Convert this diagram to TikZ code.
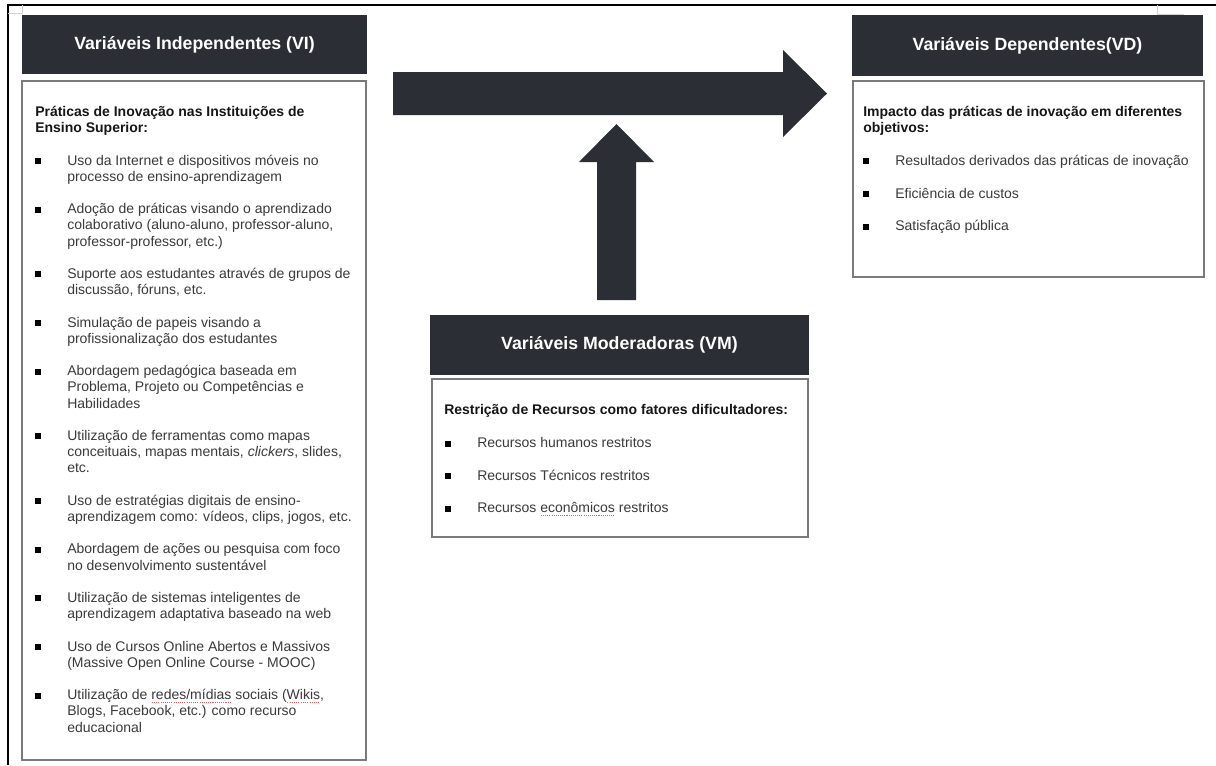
\documentclass[tikz,border=0pt]{standalone}
\usepackage{fontspec}
\setmainfont{Liberation Sans}
\usetikzlibrary{fit}

\definecolor{hdrfill}{HTML}{2B2E34}
\definecolor{boxline}{HTML}{7A7A7A}
\definecolor{bodytext}{HTML}{3A3A3A}
\definecolor{titletext}{HTML}{161616}
\definecolor{markgray}{HTML}{D2D2D2}
\definecolor{spellred}{HTML}{E06060}

% square bullet followed by the hanging indent
\newcommand\blt{\makebox[24pt][l]{\color{black}\rule[0.75pt]{4.5pt}{4.5pt}}}
% lines of an entry, baseline on the first line
\newcommand\lns[1]{\begin{tabular}[t]{@{}l@{}}#1\end{tabular}}
% word with a dotted red underline
\newcommand\spchk[1]{\setbox0\hbox{#1}\rlap{\color{spellred}\raisebox{-2.4pt}{\hbox to \wd0{\xleaders\hbox to 1.6pt{\hss\rule{0.8pt}{0.6pt}\hss}\hfill}}}\box0\relax}

\begin{document}
\begin{tikzpicture}[x=0.75pt,y=-0.75pt,
  hdr/.style={fill=hdrfill, inner sep=0pt},
  hdrtext/.style={text=white, inner sep=0pt, font=\fontsize{13.3}{16}\selectfont\bfseries},
  panel/.style={draw=boxline, line width=1.1pt, fill=white, inner sep=0pt},
  ttl/.style={anchor=base west, inner sep=0pt, text=titletext, font=\fontsize{10.5}{12.15}\selectfont\bfseries},
  itm/.style={anchor=base west, inner sep=0pt, text=bodytext, font=\fontsize{10.5}{12.15}\selectfont},
  blockarrow/.style={fill=hdrfill},
  pageedge/.style={line width=1.5pt, black},
  cropmark/.style={draw=markgray, line width=0.75pt}
]
\useasboundingbox (0,0) rectangle (1216,765);
\fill[white] (0,0) rectangle (1216,765);

% page edges and margin marks
\draw[pageedge] (7,5) -- (1216,5);
\draw[pageedge] (8,5) -- (8,765);
\draw[cropmark] (8,13) -- (22,13) -- (22,5);
\draw[cropmark] (1157,5) -- (1157,14) -- (1184,14);

% ---------- independent variables ----------
\node[hdr, fit={(22,15)(367,74)}] (vih) {};
\node[hdrtext] at (vih.center) {Variáveis Independentes (VI)};
\node[panel, fit={(22,81)(366,760)}] (vib) {};

\node[ttl] (vit) at (35,116) {\lns{Práticas de Inovação nas Instituições de\\Ensino Superior:}};
\node[itm] (vi1) at (35,165) {\blt\lns{Uso da Internet e dispositivos móveis no\\processo de ensino-aprendizagem}};
\node[itm] (vi2) at (35,213.6) {\blt\lns{Adoção de práticas visando o aprendizado\\colaborativo (aluno-aluno, professor-aluno,\\professor-professor, etc.)}};
\node[itm] (vi3) at (35,278.4) {\blt\lns{Suporte aos estudantes através de grupos de\\discussão, fóruns, etc.}};
\node[itm] (vi4) at (35,327) {\blt\lns{Simulação de papeis visando a\\profissionalização dos estudantes}};
\node[itm] (vi5) at (35,375.6) {\blt\lns{Abordagem pedagógica baseada em\\Problema, Projeto ou Competências e\\Habilidades}};
\node[itm] (vi6) at (35,440.4) {\blt\lns{Utilização de ferramentas como mapas\\conceituais, mapas mentais, \emph{clickers}, slides,\\etc.}};
\node[itm] (vi7) at (35,505.2) {\blt\lns{Uso de estratégias digitais de ensino-\\aprendizagem como: vídeos, clips, jogos, etc.}};
\node[itm] (vi8) at (35,553.8) {\blt\lns{Abordagem de ações ou pesquisa com foco\\no desenvolvimento sustentável}};
\node[itm] (vi9) at (35,602.4) {\blt\lns{Utilização de sistemas inteligentes de\\aprendizagem adaptativa baseado na web}};
\node[itm] (vi10) at (35,651) {\blt\lns{Uso de Cursos Online Abertos e Massivos\\(Massive Open Online Course - MOOC)}};
\node[itm] (vi11) at (35,699.6) {\blt\lns{Utilização de \spchk{redes/mídias} sociais (\spchk{Wikis},\\Blogs, Facebook, etc.) como recurso\\educacional}};

% ---------- dependent variables ----------
\node[hdr, fit={(852,15)(1203,76)}] (vdh) {};
\node[hdrtext] at (vdh.center) {Variáveis Dependentes(VD)};
\node[panel, fit={(853,81)(1204,277)}] (vdb) {};

\node[ttl] (vdt) at (863,116) {\lns{Impacto das práticas de inovação em diferentes\\objetivos:}};
\node[itm] (vd1) at (863,165) {\blt Resultados derivados das práticas de inovação};
\node[itm] (vd2) at (863,198) {\blt Eficiência de custos};
\node[itm] (vd3) at (863,230.5) {\blt Satisfação pública};

% ---------- moderating variables ----------
\node[hdr, fit={(430,315)(809,375)}] (vmh) {};
\node[hdrtext] at (vmh.center) {Variáveis Moderadoras (VM)};
\node[panel, fit={(432,379)(808,537)}] (vmb) {};

\node[ttl] (vmt) at (444,414.5) {Restrição de Recursos como fatores dificultadores:};
\node[itm] (vm1) at (445,447.5) {\blt Recursos humanos restritos};
\node[itm] (vm2) at (445,480) {\blt Recursos Técnicos restritos};
\node[itm] (vm3) at (445,512.5) {\blt Recursos \spchk{econômicos} restritos};

% ---------- block arrows ----------
% VI towards VD
\fill[blockarrow] (393,72) -- (783,72) -- (783,50) -- (827,93.5) -- (783,137)
  -- (783,115) -- (393,115) -- cycle;
% VM moderating the relation
\fill[blockarrow] (597,300) -- (597,162) -- (579,162) -- (616.5,124) -- (654,162)
  -- (636,162) -- (636,300) -- cycle;
\end{tikzpicture}
\end{document}
